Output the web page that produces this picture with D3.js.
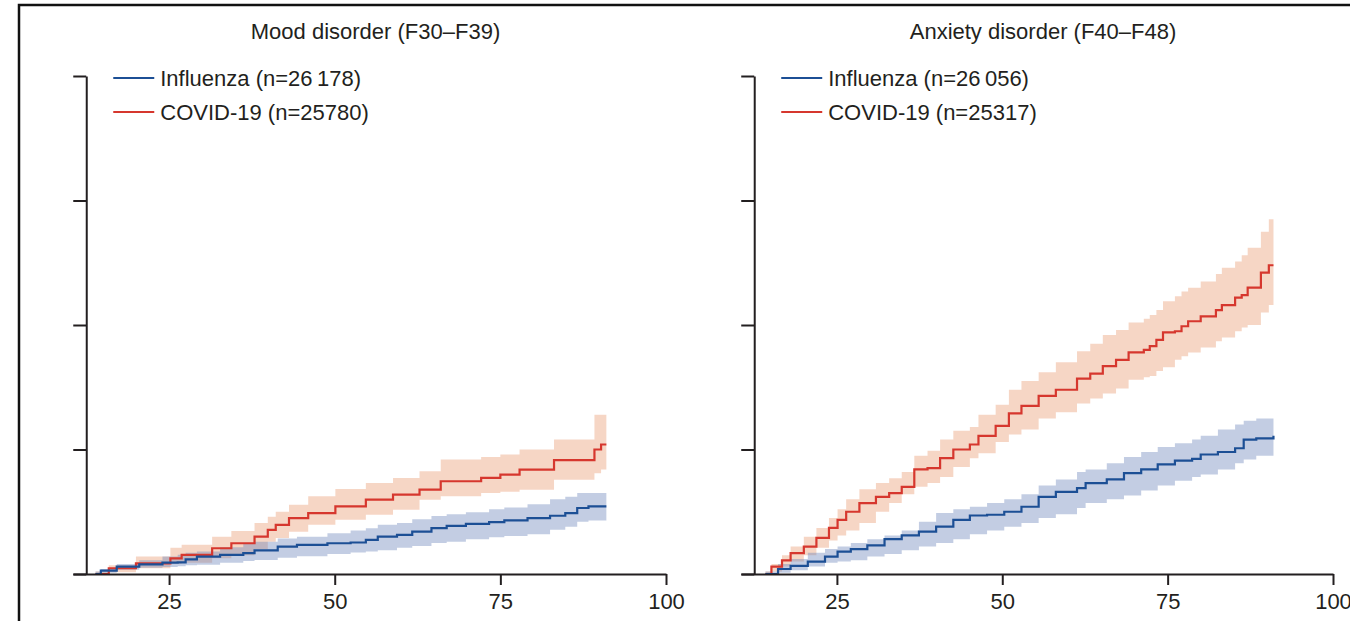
<!DOCTYPE html>
<html>
<head>
<meta charset="utf-8">
<script src="https://cdn.jsdelivr.net/npm/d3@7"></script>
<style>
  body { margin: 0; background: #fff; }
  svg { display: block; font-family: "Liberation Sans", Arial, sans-serif; }
  .axis path, .axis line { stroke: #231f20; stroke-width: 2; }
  .axis text { font-size: 22px; fill: #231f20; font-family: "Liberation Sans", Arial, sans-serif; }
  .title, .legendText { font-size: 22px; fill: #231f20; }
</style>
</head>
<body>
<svg></svg>
<script>
// tick labels & titles
var xTicks = [25, 50, 75, 100];
var yTicks = [0, 1, 2, 3, 4];
var titles = ["Mood disorder (F30\u2013F39)", "Anxiety disorder (F40\u2013F48)"];
var fluLabels = ["Influenza (n=26\u2009178)", "Influenza (n=26\u2009056)"];
var covidLabels = ["COVID-19 (n=25780)", "COVID-19 (n=25317)"];

// Mood disorder - COVID-19 (step knots, estimate, lower and upper CI)
var moodCovidX  = [13.9, 15.9, 20, 25.2, 26.9, 31.5, 34.4, 37.9, 39.9, 41.1, 43.1, 46, 50.1, 54.7, 58.8, 62.8, 66, 72.1, 75, 77.9, 83.1, 89.2, 90.2, 91];
var moodCovidY  = [0, 0.046, 0.086, 0.126, 0.153, 0.207, 0.247, 0.30, 0.355, 0.395, 0.449, 0.489, 0.543, 0.597, 0.637, 0.677, 0.745, 0.772, 0.798, 0.839, 0.914, 1.00, 1.04, 1.04];
var moodCovidLo = [0, 0.015, 0.046, 0.083, 0.09, 0.126, 0.15, 0.20, 0.26, 0.29, 0.34, 0.395, 0.435, 0.476, 0.516, 0.597, 0.624, 0.65, 0.66, 0.677, 0.758, 0.81, 0.84, 0.84];
var moodCovidHi = [0.02, 0.07, 0.14, 0.21, 0.235, 0.30, 0.345, 0.41, 0.46, 0.50, 0.556, 0.624, 0.683, 0.731, 0.772, 0.825, 0.919, 0.94, 0.96, 1.00, 1.08, 1.28, 1.28, 1.28];

// Mood disorder - influenza
var moodFluX  = [13.9, 14.7, 17.1, 20.5, 24, 26.3, 27.5, 29.2, 32.7, 36.2, 37.9, 41.4, 44.3, 48.9, 52.4, 54.7, 56.5, 59.4, 61.7, 64.6, 66.9, 69.8, 73.3, 75.6, 79.1, 82.5, 84.8, 86.6, 88.3, 91];
var moodFluY  = [0, 0.027, 0.06, 0.078, 0.091, 0.094, 0.118, 0.14, 0.153, 0.167, 0.19, 0.22, 0.234, 0.247, 0.253, 0.274, 0.30, 0.315, 0.34, 0.368, 0.387, 0.403, 0.417, 0.43, 0.449, 0.468, 0.489, 0.53, 0.543, 0.543];
var moodFluLo = [0, 0.01, 0.035, 0.05, 0.056, 0.062, 0.07, 0.075, 0.09, 0.105, 0.112, 0.13, 0.143, 0.16, 0.172, 0.18, 0.19, 0.21, 0.225, 0.25, 0.26, 0.28, 0.295, 0.305, 0.32, 0.355, 0.38, 0.42, 0.43, 0.45];
var moodFluHi = [0.02, 0.04, 0.08, 0.11, 0.14, 0.155, 0.17, 0.18, 0.215, 0.245, 0.26, 0.285, 0.30, 0.328, 0.35, 0.368, 0.395, 0.41, 0.44, 0.465, 0.48, 0.495, 0.52, 0.535, 0.56, 0.60, 0.62, 0.65, 0.65, 0.65];

// Anxiety disorder - COVID-19
var anxCovidX  = [14.2, 15.1, 16.7, 18, 20, 21.9, 23.8, 25.1, 26.4, 28.4, 30.9, 32.9, 34.8, 36.7, 38.7, 40.6, 42.6, 45.1, 46.4, 49, 51, 52.9, 55.5, 58.1, 61.3, 63.3, 65.2, 67.2, 69.1, 71.4, 72.3, 73.3, 74.3, 76.1, 77.1, 78.1, 80, 82.3, 83.2, 85.2, 86.2, 87.1, 89.1, 90.3, 91];
var anxCovidY  = [0, 0.06, 0.11, 0.167, 0.22, 0.29, 0.37, 0.435, 0.50, 0.57, 0.62, 0.65, 0.70, 0.84, 0.85, 0.93, 1.0, 1.04, 1.11, 1.19, 1.29, 1.35, 1.43, 1.48, 1.57, 1.61, 1.67, 1.72, 1.78, 1.80, 1.83, 1.88, 1.94, 1.95, 1.99, 2.03, 2.07, 2.12, 2.16, 2.22, 2.24, 2.30, 2.42, 2.48, 2.48];
var anxCovidLo = [0, 0.02, 0.06, 0.10, 0.15, 0.21, 0.27, 0.31, 0.35, 0.41, 0.50, 0.57, 0.64, 0.70, 0.73, 0.78, 0.86, 0.93, 0.97, 1.06, 1.12, 1.16, 1.25, 1.30, 1.37, 1.41, 1.45, 1.49, 1.56, 1.58, 1.59, 1.63, 1.66, 1.72, 1.75, 1.78, 1.82, 1.87, 1.90, 1.95, 1.98, 2.00, 2.10, 2.16, 2.16];
var anxCovidHi = [0.02, 0.08, 0.15, 0.22, 0.30, 0.37, 0.45, 0.52, 0.60, 0.68, 0.73, 0.77, 0.82, 0.95, 0.99, 1.08, 1.15, 1.18, 1.28, 1.36, 1.48, 1.55, 1.62, 1.70, 1.79, 1.85, 1.92, 1.96, 2.02, 2.05, 2.08, 2.12, 2.19, 2.23, 2.27, 2.30, 2.35, 2.41, 2.46, 2.51, 2.56, 2.62, 2.75, 2.85, 2.85];

// Anxiety disorder - influenza
var anxFluX  = [14.2, 16.1, 18, 20.6, 23.2, 25.1, 27.1, 29.6, 32.2, 34.8, 37.4, 40, 42.6, 45.1, 47.7, 50.3, 52.9, 55.5, 58.1, 61.3, 62.6, 65.8, 68.4, 71, 73.5, 76.1, 78.7, 80, 82.6, 85.2, 86.5, 88.4, 91];
var anxFluY  = [0, 0.04, 0.065, 0.10, 0.14, 0.18, 0.20, 0.23, 0.28, 0.31, 0.34, 0.38, 0.435, 0.47, 0.476, 0.50, 0.54, 0.62, 0.66, 0.69, 0.73, 0.76, 0.81, 0.84, 0.88, 0.91, 0.925, 0.96, 0.98, 1.01, 1.08, 1.09, 1.11];
var anxFluLo = [0, 0.01, 0.03, 0.06, 0.09, 0.10, 0.11, 0.14, 0.16, 0.19, 0.22, 0.25, 0.28, 0.32, 0.35, 0.38, 0.41, 0.45, 0.48, 0.53, 0.57, 0.60, 0.63, 0.67, 0.71, 0.75, 0.78, 0.80, 0.84, 0.89, 0.92, 0.95, 0.97];
var anxFluHi = [0.02, 0.08, 0.12, 0.17, 0.20, 0.22, 0.25, 0.28, 0.31, 0.35, 0.42, 0.49, 0.52, 0.54, 0.57, 0.60, 0.64, 0.71, 0.76, 0.82, 0.84, 0.89, 0.94, 0.98, 1.02, 1.05, 1.08, 1.11, 1.16, 1.20, 1.23, 1.25, 1.255];

var fluColor = "#1c4f95", covidColor = "#d6372e";
var fluBand = "#6a82b8", covidBand = "#e8986f";

var w = 1350, h = 621;
var svg = d3.select("svg").attr("width", w).attr("height", h);

// frame edge of the cropped figure
svg.append("path")
  .attr("d", "M19," + h + "V5H" + w)
  .attr("fill", "none")
  .attr("stroke", "#111")
  .attr("stroke-width", 2.5);

var yscale = d3.scaleLinear().domain([0, 4]).range([574, 76]);

function series(xs, ys, lo, hi) {
  return xs.map(function(x, i) { return { x: x, y: ys[i], lo: lo[i], hi: hi[i] }; });
}

var panels = [
  { range: [73, 666], title: titles[0], flu: fluLabels[0], covid: covidLabels[0],
    covidData: series(moodCovidX, moodCovidY, moodCovidLo, moodCovidHi),
    fluData: series(moodFluX, moodFluY, moodFluLo, moodFluHi) },
  { range: [741, 1333], title: titles[1], flu: fluLabels[1], covid: covidLabels[1],
    covidData: series(anxCovidX, anxCovidY, anxCovidLo, anxCovidHi),
    fluData: series(anxFluX, anxFluY, anxFluLo, anxFluHi) }
];

panels.forEach(function(p) {
  var xscale = d3.scaleLinear().domain([10.5, 100]).range(p.range);
  var g = svg.append("g");

  var area = d3.area()
    .curve(d3.curveStepAfter)
    .x(function(d) { return xscale(d.x); })
    .y0(function(d) { return yscale(d.lo); })
    .y1(function(d) { return yscale(d.hi); });

  var line = d3.line()
    .curve(d3.curveStepAfter)
    .x(function(d) { return xscale(d.x); })
    .y(function(d) { return yscale(d.y); });

  //CI bands
  g.append("path").datum(p.covidData).attr("d", area)
    .attr("fill", covidBand).attr("fill-opacity", 0.4);
  g.append("path").datum(p.fluData).attr("d", area)
    .attr("fill", fluBand).attr("fill-opacity", 0.4);

  // estimates
  g.append("path").datum(p.covidData).attr("d", line)
    .attr("fill", "none").attr("stroke", covidColor).attr("stroke-width", 2.2);
  g.append("path").datum(p.fluData).attr("d", line)
    .attr("fill", "none").attr("stroke", fluColor).attr("stroke-width", 2.2);

  // x axis
  g.append("g").attr("class", "axis")
    .attr("transform", "translate(0,574)")
    .call(d3.axisBottom(xscale).tickValues(xTicks).tickSize(11).tickSizeOuter(0).tickPadding(8));

  // y axis (no labels)
  g.append("g").attr("class", "axis")
    .attr("transform", "translate(" + xscale(12.5) + ",0)")
    .call(d3.axisLeft(yscale).tickValues(yTicks).tickSize(13).tickSizeOuter(0).tickFormat(""));

  // title
  g.append("text").attr("class", "title")
    .attr("x", (p.range[0] + p.range[1]) / 2 + 6)
    .attr("y", 39)
    .attr("text-anchor", "middle")
    .text(p.title);

  // legend
  var lx = xscale(12.5) + 27;
  var legend = [[p.flu, fluColor, 78], [p.covid, covidColor, 112]];
  legend.forEach(function(l) {
    g.append("line").attr("x1", lx).attr("x2", lx + 41)
      .attr("y1", l[2]).attr("y2", l[2])
      .attr("stroke", l[1]).attr("stroke-width", 2);
    g.append("text").attr("class", "legendText")
      .attr("x", lx + 47).attr("y", l[2] + 8)
      .text(l[0]);
  });
});
</script>
</body>
</html>
